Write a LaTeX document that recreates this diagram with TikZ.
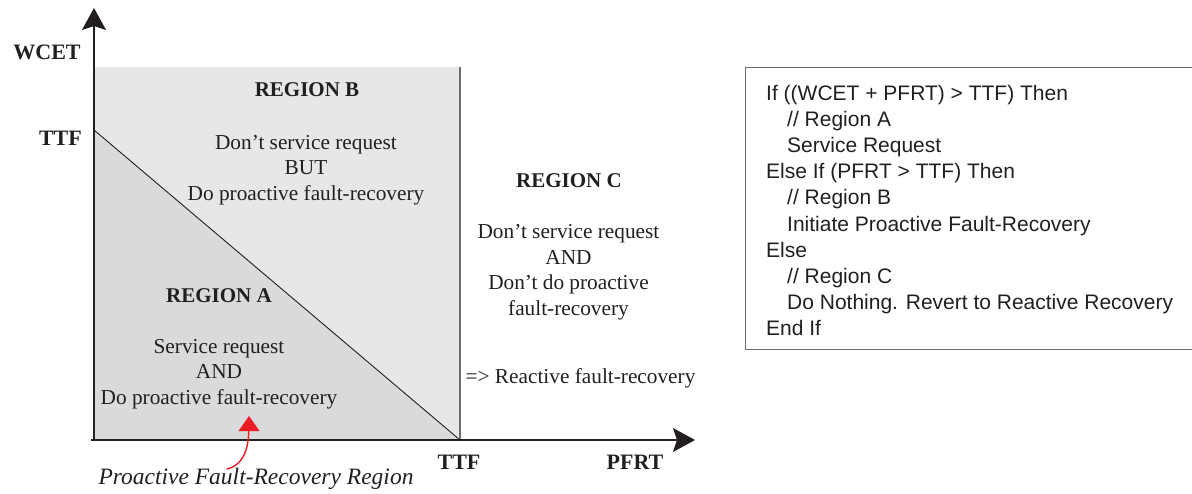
\documentclass[tikz,border=0pt]{standalone}
\usepackage{fontspec}
\setmainfont{Liberation Serif}
\newfontfamily\codefont{Liberation Sans}
\usetikzlibrary{arrows.meta}
\definecolor{ink}{HTML}{231F20}
\definecolor{fillB}{HTML}{E6E7E8}
\definecolor{fillA}{HTML}{D9DADB}
\definecolor{edgegray}{HTML}{6D6E70}
\definecolor{markred}{HTML}{ED1C24}
\tikzset{
  every node/.style={text=ink, inner sep=0pt},
  body/.style={font=\fontsize{21.3}{25.5}\selectfont, align=center},
  title/.style={font=\fontsize{21}{24}\selectfont\bfseries},
  axislabel/.style={font=\fontsize{22}{24}\selectfont\bfseries},
  axis/.style={draw=ink, line width=1.3pt, -{Stealth[length=22pt,width=24pt,inset=4pt]}},
  codetext/.style={font=\codefont\fontsize{21}{26.2}\selectfont, align=left},
  codebox/.style={draw=edgegray, line width=1.4pt},
  callout/.style={draw=markred, line width=1.4pt, line join=round, line cap=round},
  callouthead/.style={fill=markred, draw=none},
}
\begin{document}
\begin{tikzpicture}[x=1pt,y=-1pt]
\useasboundingbox (0,0) rectangle (1192,494);

% corner points of the decision regions
\coordinate (O) at (94,440);
\coordinate (ttfY) at (94,130);
\coordinate (ttfX) at (460,440);
\coordinate (topL) at (94,67);
\coordinate (topR) at (460,67);

% region B (whole rectangle) and region A (triangle)
\fill[fillB] (O) rectangle (topR);
\fill[fillA] (ttfY) -- (ttfX) -- (O) -- cycle;
\draw[ink, line width=0.9pt] (ttfY) -- (ttfX);
\draw[edgegray, line width=1.2pt] (topR) -- (ttfX);

% axes
\coordinate (yEnd) at (94,8);
\coordinate (xStart) at (91,440);
\coordinate (xEnd) at (695,440);
\draw[axis] (O) -- (yEnd);
\draw[axis] (xStart) -- (xEnd);

% axis labels
\node[axislabel] (wcet) at (47,52) {WCET};
\node[axislabel, anchor=east] (ttfl) at (82,138) {TTF};
\node[axislabel] (ttfb) at (459,462) {TTF};
\node[axislabel] (pfrt) at (635,462) {PFRT};

% region B
\node[title] (rb) at (307,90) {REGION B};
\node[body] (rbtext) at (306,170) {Don’t service request\\BUT\\Do proactive fault-recovery};

% region C
\node[title] (rc) at (569,181) {REGION C};
\node[body] (rctext) at (568.5,272) {Don’t service request\\AND\\Don’t do proactive\\fault-recovery};
\node[body] (react) at (580.5,378) {=> Reactive fault-recovery};

% region A
\node[title] (ra) at (219,296) {REGION A};
\node[body] (ratext) at (219,374) {Service request\\AND\\Do proactive fault-recovery};

% proactive region callout: curved stem (sampled cubic) and a filled head
\node[font=\fontsize{23.5}{26}\selectfont\itshape] (pfr) at (256,479) {Proactive Fault-Recovery Region};
\coordinate (pfrtip) at (249,416);
\coordinate (pfrl) at (238.5,431);
\coordinate (pfrr) at (259.5,431);
\draw[callout] plot[domain=0:1, samples=24, variable=\t]
  ({(1-\t)^3*227 + 3*(1-\t)^2*\t*243 + 3*(1-\t)*\t^2*248.8 + \t^3*248.8},
   {(1-\t)^3*469 + 3*(1-\t)^2*\t*465 + 3*(1-\t)*\t^2*450 + \t^3*428});
\fill[callouthead] (pfrtip) -- (pfrr) -- (pfrl) -- cycle;

% decision rule
\node[codebox, anchor=north west, minimum width=470pt, minimum height=282pt] (box) at (745,67) {};
\node[codetext, anchor=west] (code) at (766,210.5) {%
If ((WCET + PFRT) > TTF) Then\\
\hspace*{21pt}// Region A\\
\hspace*{21pt}Service Request\\
Else If (PFRT > TTF) Then\\
\hspace*{21pt}// Region B\\
\hspace*{21pt}Initiate Proactive Fault-Recovery\\
Else\\
\hspace*{21pt}// Region C\\
\hspace*{21pt}Do Nothing. Revert to Reactive Recovery\\
End If};
\end{tikzpicture}
\end{document}
